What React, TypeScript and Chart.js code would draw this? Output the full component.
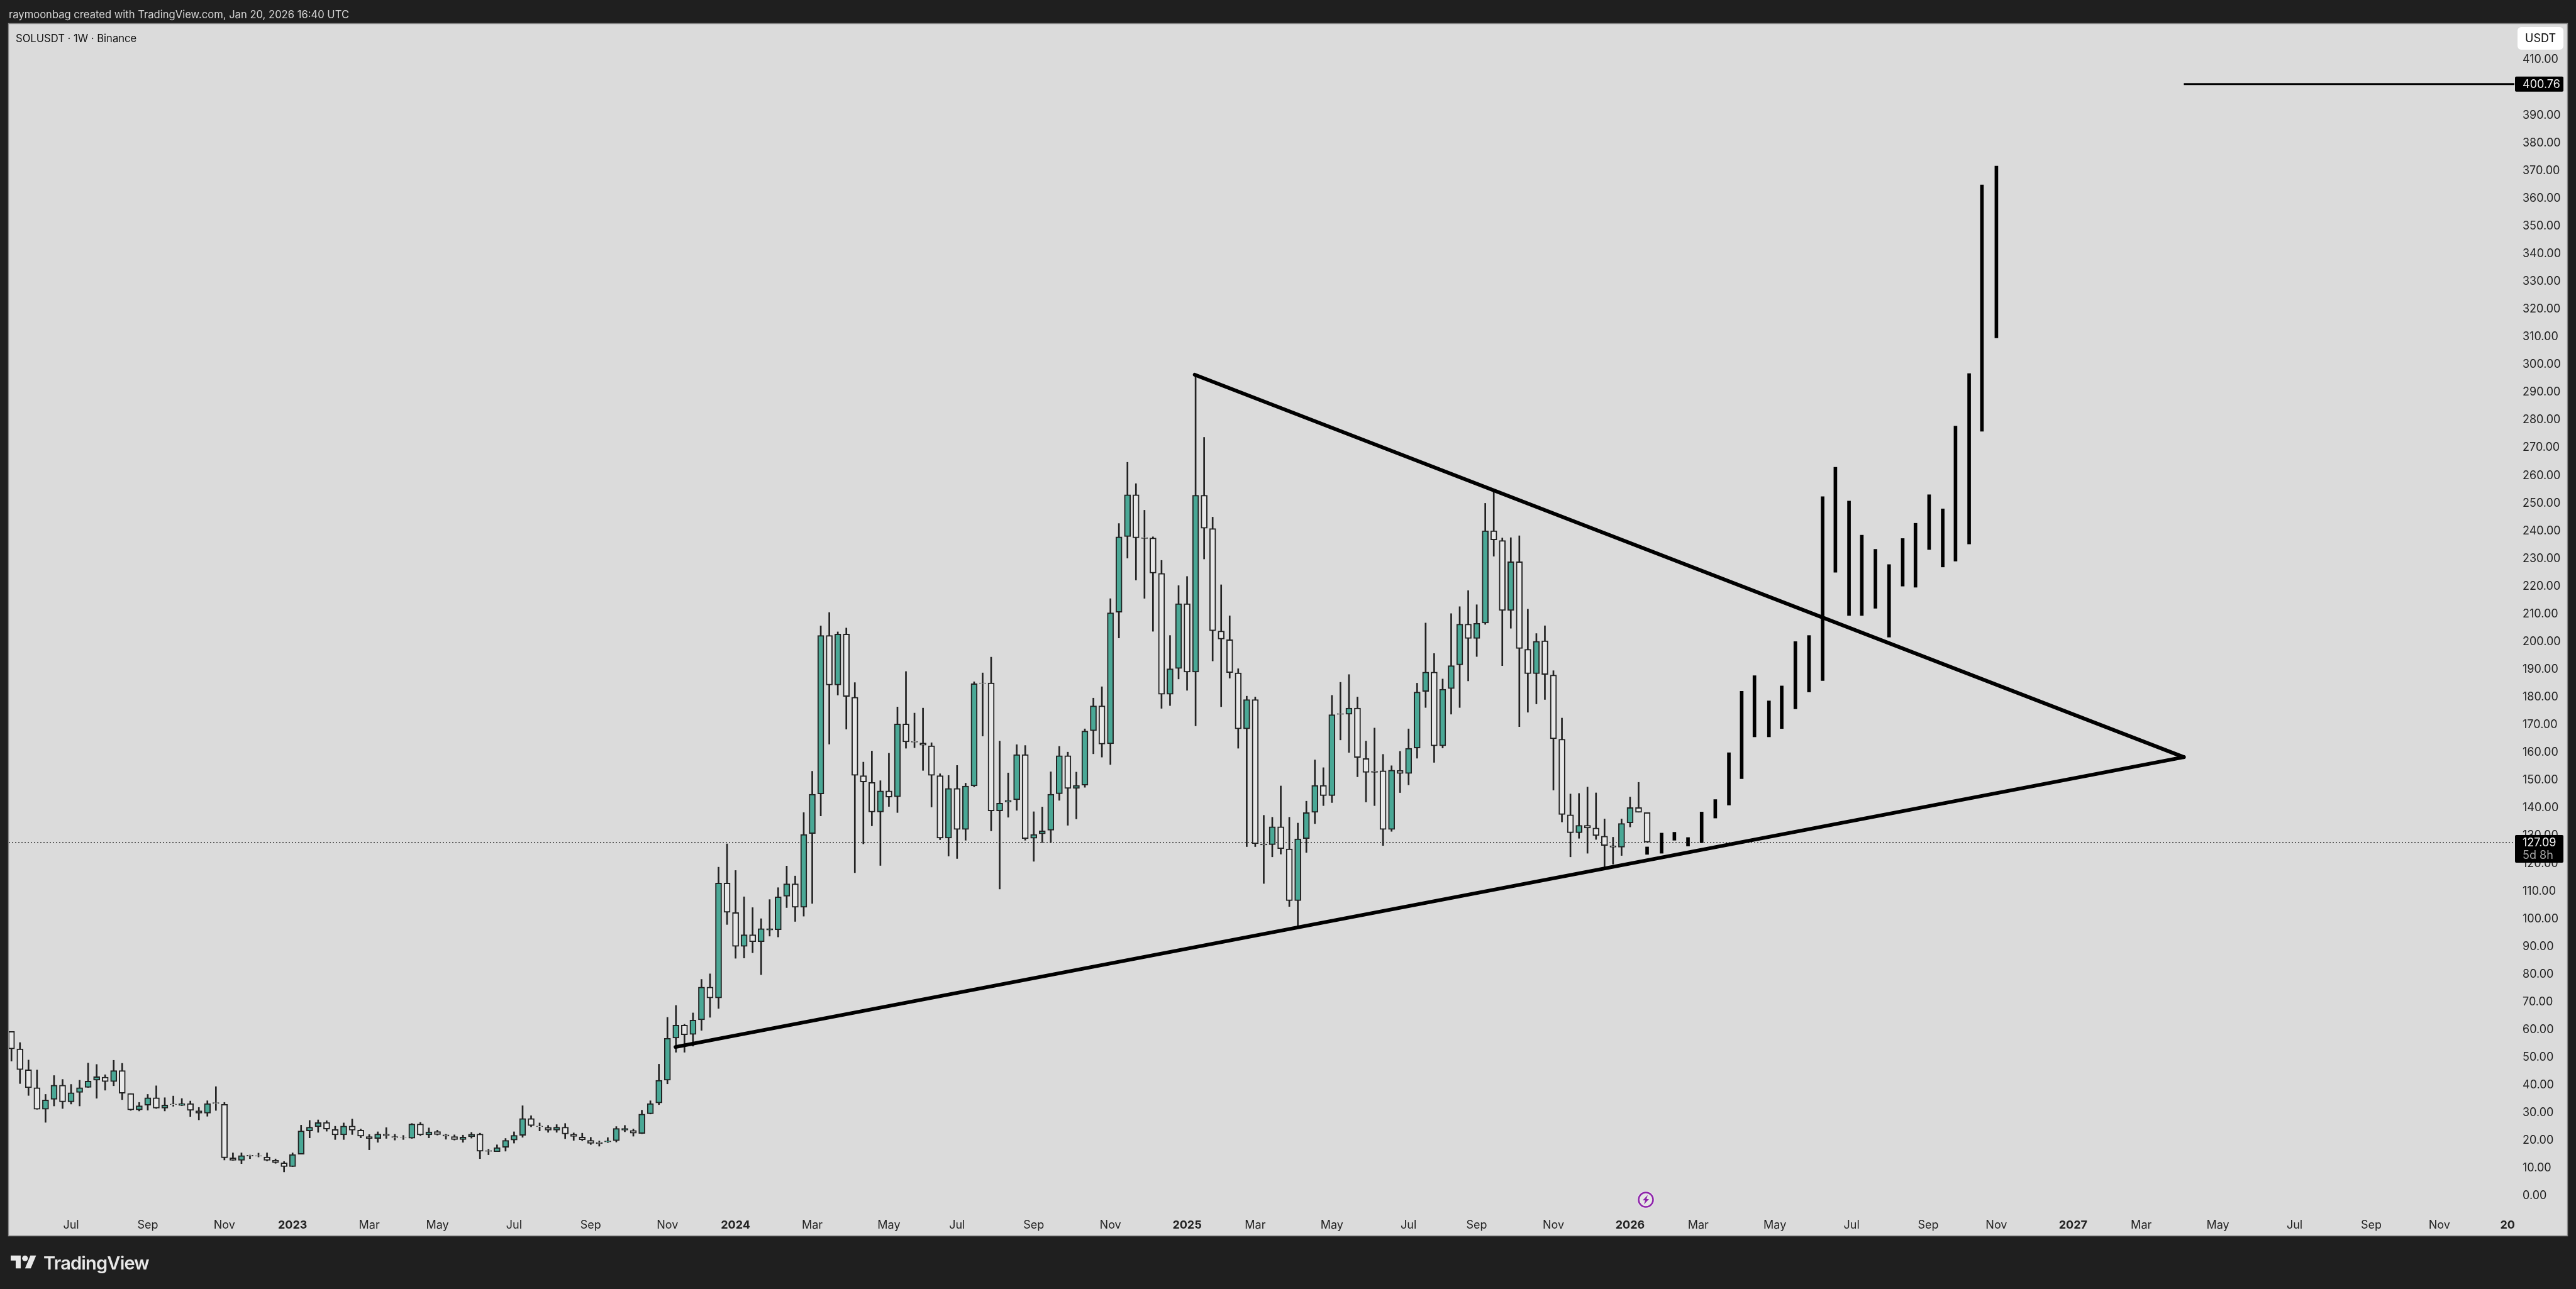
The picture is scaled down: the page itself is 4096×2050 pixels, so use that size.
import { useEffect, useRef } from "react";
import { Chart, registerables } from "chart.js";

Chart.register(...registerables);

// weekly candles, week 0 = May 16 2022
const opens = [
  58.9, 52.6, 45.1, 38.6, 30.8, 34.4, 39.5, 33.5, 36.9, 38.7,
  41.3, 42.4, 40.8, 44.8, 36.5, 30.6, 32.3, 35.0, 31.2, 32.7,
  32.2, 32.9, 30.3, 29.4, 33.2, 32.6, 13.3, 12.4, 14.2, 14.1,
  13.6, 12.4, 11.5, 10.1, 14.6, 23.0, 24.5, 26.1, 23.5, 21.6,
  24.8, 23.3, 21.0, 20.3, 21.8, 21.0, 20.7, 20.4, 25.5, 21.6,
  22.8, 21.6, 21.0, 19.9, 20.9, 21.9, 15.9, 15.5, 17.1, 19.7,
  21.4, 27.5, 24.8, 24.3, 23.3, 24.4, 21.8, 20.8, 19.6, 18.9,
  19.0, 19.5, 23.3, 23.2, 22.1, 29.2, 33.1, 41.3, 56.5, 61.2,
  57.8, 63.1, 74.9, 71.0, 112.5, 101.8, 89.6, 93.8, 91.3, 95.5,
  95.6, 107.7, 112.2, 103.7, 130.3, 144.6, 201.8, 183.9, 202.3, 179.5,
  151.2, 148.8, 138.1, 145.7, 143.6, 169.9, 163.5, 163.0, 162.0, 151.2,
  128.7, 146.6, 131.8, 147.5, 184.7, 184.7, 138.5, 141.7, 142.5, 158.8,
  128.6, 130.2, 131.5, 144.7, 158.4, 146.6, 147.8, 167.4, 176.4, 162.7,
  210.2, 237.5, 252.6, 237.1, 237.0, 224.2, 180.6, 189.9, 213.3, 188.6,
  252.4, 240.4, 203.4, 200.3, 188.3, 168.1, 178.7, 126.6, 126.3, 132.8,
  124.8, 106.1, 128.5, 138.0, 147.7, 144.0, 173.6, 173.4, 175.6, 157.4,
  152.8, 153.0, 131.8, 153.1, 152.0, 161.2, 181.6, 188.6, 162.0, 182.6,
  191.2, 205.9, 200.7, 206.3, 239.6, 236.1, 210.8, 228.4, 196.8, 188.0,
  199.9, 187.5, 164.4, 137.1, 130.6, 133.3, 132.3, 129.4, 125.9, 125.4,
  134.2, 139.7, 137.9,
];
const closes = [
  52.6, 45.1, 38.6, 30.8, 34.2, 39.5, 33.5, 36.8, 38.6, 41.0,
  42.6, 40.8, 44.8, 36.6, 30.6, 32.1, 35.0, 31.2, 32.4, 32.5,
  32.9, 30.4, 29.4, 32.9, 33.0, 13.3, 12.4, 14.1, 14.0, 14.0,
  12.4, 11.6, 10.1, 14.5, 23.0, 24.4, 26.0, 23.7, 21.6, 24.8,
  23.3, 21.1, 20.3, 21.9, 21.3, 20.6, 20.6, 25.5, 21.6, 22.7,
  21.7, 21.1, 19.9, 20.8, 21.8, 15.7, 15.6, 17.0, 19.6, 21.4,
  27.5, 24.9, 24.5, 23.3, 24.4, 21.9, 21.0, 19.8, 18.5, 18.4,
  19.4, 23.9, 23.9, 22.2, 29.1, 32.9, 41.3, 56.4, 61.2, 57.7,
  63.0, 74.9, 71.0, 112.5, 101.9, 89.6, 93.8, 91.3, 96.0, 96.0,
  107.5, 112.2, 103.7, 130.0, 144.5, 201.8, 183.9, 202.3, 179.8, 151.3,
  148.9, 138.1, 145.7, 143.5, 169.9, 163.4, 163.3, 162.2, 151.3, 128.7,
  146.6, 131.8, 147.5, 184.4, 184.5, 138.5, 141.3, 142.3, 158.8, 128.5,
  130.0, 131.3, 144.5, 158.4, 146.6, 147.7, 167.3, 176.4, 162.6, 210.0,
  237.4, 252.6, 237.0, 236.8, 224.3, 180.6, 189.8, 213.3, 188.6, 252.4,
  240.5, 203.5, 200.5, 188.4, 168.1, 178.7, 126.7, 126.2, 132.8, 124.9,
  106.1, 128.4, 137.9, 147.7, 144.0, 173.2, 173.3, 175.6, 157.8, 152.4,
  152.4, 131.8, 153.2, 152.0, 161.1, 181.4, 188.6, 162.0, 182.4, 190.9,
  205.9, 200.7, 206.2, 239.6, 236.3, 210.8, 228.4, 197.1, 188.0, 199.7,
  187.7, 164.5, 137.2, 130.6, 133.3, 132.3, 129.6, 126.0, 125.4, 134.0,
  139.7, 138.0, 127.2,
];
const highs = [
  58.9, 54.9, 48.6, 45.0, 36.2, 43.0, 41.6, 39.8, 41.3, 47.5,
  47.0, 43.3, 48.5, 47.4, 36.5, 33.3, 36.2, 39.3, 35.0, 35.6,
  34.7, 33.8, 31.5, 33.9, 39.0, 33.3, 15.1, 15.1, 14.3, 15.0,
  15.1, 12.9, 12.0, 15.1, 25.1, 26.8, 27.0, 26.7, 24.7, 25.9,
  27.3, 23.7, 21.7, 22.7, 24.2, 21.8, 21.4, 25.7, 26.1, 24.1,
  23.3, 21.8, 21.6, 21.5, 22.5, 22.2, 16.4, 18.0, 20.3, 22.7,
  32.1, 28.5, 25.9, 25.0, 25.3, 25.7, 22.3, 22.2, 20.7, 19.4,
  20.6, 24.6, 25.0, 23.7, 30.5, 33.9, 47.1, 64.0, 68.3, 61.5,
  65.6, 77.7, 79.7, 118.2, 126.6, 117.0, 107.5, 103.6, 99.6, 106.5,
  110.8, 118.6, 115.0, 137.9, 152.8, 205.3, 210.1, 203.1, 204.5, 184.8,
  156.1, 160.1, 149.4, 159.3, 176.0, 188.8, 173.8, 175.6, 163.1, 151.9,
  151.3, 154.9, 148.5, 185.1, 188.3, 194.0, 163.7, 152.2, 162.4, 162.1,
  138.2, 139.9, 152.6, 161.8, 159.7, 152.5, 168.1, 179.2, 183.3, 215.1,
  242.2, 264.3, 256.6, 247.0, 237.4, 228.9, 201.8, 219.8, 223.1, 295.8,
  273.3, 244.5, 220.1, 208.9, 189.8, 179.9, 179.6, 136.9, 136.2, 147.5,
  136.2, 134.1, 142.0, 156.9, 154.1, 180.2, 184.9, 187.7, 179.6, 163.7,
  168.4, 158.9, 154.8, 160.0, 168.1, 184.6, 206.3, 195.3, 186.1, 209.7,
  212.2, 218.0, 212.9, 249.5, 253.9, 237.0, 237.1, 237.8, 211.3, 202.5,
  205.3, 189.1, 172.0, 144.6, 144.8, 147.1, 145.0, 135.6, 129.0, 135.6,
  143.5, 148.8, 137.9,
];
const lows = [
  48.2, 40.1, 35.8, 30.8, 26.1, 32.0, 31.1, 32.7, 32.0, 38.7,
  34.8, 37.7, 39.3, 34.3, 30.4, 30.2, 30.5, 31.1, 30.2, 31.9,
  32.1, 28.2, 27.0, 28.3, 30.4, 12.5, 12.4, 11.2, 13.0, 13.6,
  12.2, 11.3, 8.2, 10.1, 14.6, 20.5, 22.5, 22.9, 19.9, 19.9,
  21.7, 20.5, 16.2, 18.9, 20.3, 19.7, 19.9, 20.3, 21.3, 20.5,
  21.5, 20.0, 19.7, 18.9, 20.4, 13.0, 14.4, 15.5, 15.7, 18.6,
  20.7, 24.5, 23.0, 22.5, 22.5, 20.2, 19.6, 19.5, 18.1, 17.5,
  18.8, 19.0, 22.7, 21.1, 22.0, 29.1, 32.5, 40.0, 51.4, 51.4,
  53.6, 59.3, 64.0, 67.2, 97.5, 85.3, 85.4, 87.3, 79.4, 93.3,
  93.0, 103.6, 98.6, 100.5, 105.1, 136.7, 162.6, 180.3, 168.0, 116.2,
  126.6, 133.1, 118.8, 140.1, 137.9, 161.1, 161.3, 153.1, 139.9, 128.1,
  122.2, 121.3, 127.9, 147.2, 165.5, 131.3, 110.3, 136.2, 138.7, 127.9,
  120.3, 127.1, 127.1, 142.3, 133.3, 135.6, 147.0, 159.1, 157.9, 155.2,
  200.9, 229.7, 221.8, 215.2, 203.3, 175.5, 176.5, 186.1, 182.0, 169.2,
  229.4, 192.6, 176.1, 186.4, 161.1, 125.6, 125.6, 112.3, 121.9, 122.9,
  104.0, 96.5, 123.5, 133.9, 140.4, 141.5, 164.1, 159.6, 150.8, 141.7,
  140.4, 126.0, 131.1, 145.1, 147.9, 157.5, 175.8, 156.0, 161.2, 173.4,
  175.8, 185.4, 194.2, 205.8, 230.4, 190.9, 204.4, 168.9, 174.1, 177.1,
  178.7, 146.0, 134.5, 121.9, 128.6, 123.2, 128.2, 117.6, 119.3, 122.4,
  132.7, 138.0, 127.2,
];

// hand drawn projection bars
const projWeeks = [
  192.0, 193.7, 195.2, 196.8, 198.4, 200.0, 201.6, 203.1, 204.6, 206.3, 207.8, 209.4, 211.0, 212.6,
  214.1, 215.7, 217.2, 218.8, 220.4, 222.0, 223.5, 225.1, 226.7, 228.2, 229.8, 231.3, 233.0,
];
const projHighs = [
  125.5, 130.5, 130.8, 128.9, 138.1, 142.6, 159.5, 181.7, 187.3, 178.2, 183.6, 199.6, 201.8, 251.9,
  262.5, 250.3, 238.0, 232.9, 227.4, 236.8, 242.3, 252.6, 247.5, 277.4, 296.3, 364.4, 371.2,
];
const projLows = [
  122.8, 123.2, 127.9, 125.8, 127.0, 135.9, 140.6, 150.1, 165.2, 165.2, 168.2, 175.3, 181.4, 185.5,
  224.6, 209.0, 209.0, 211.6, 201.2, 219.6, 219.2, 232.8, 226.5, 228.6, 234.8, 275.5, 309.2,
];

// [week, price]
const upperTrend = [[138.9, 295.9], [255.0, 157.9]];
const lowerTrend = [[77.95, 53.3], [255.0, 157.9]];
const lastPrice = 127.09;
const targetPrice = 400.76;
const targetStart = 255.0;

const timeWeeks = [
  7, 16, 25, 33, 42, 50, 59, 68, 77, 85, 94, 103, 111, 120, 129, 138, 146, 155, 164, 172, 181, 190,
  198, 207, 216, 225, 233, 242, 250, 259, 268, 277, 285, 293,
];
const timeLabels = [
  "Jul", "Sep", "Nov", "2023", "Mar", "May", "Jul", "Sep", "Nov", "2024", "Mar", "May", "Jul", "Sep", "Nov", "2025",
  "Mar", "May", "Jul", "Sep", "Nov", "2026", "Mar", "May", "Jul", "Sep", "Nov", "2027", "Mar", "May", "Jul", "Sep",
  "Nov", "20",
];
const priceTicks = [
  0, 10, 20, 30, 40, 50, 60, 70, 80, 90, 100, 110, 120, 130, 140, 150, 160, 170, 180, 190, 200, 210, 220, 230, 240,
  250, 260, 270, 280, 290, 300, 310, 320, 330, 340, 350, 360, 370, 380, 390, 400, 410,
];

const FONT = "Inter, 'Liberation Sans', sans-serif";
const UP = "#4aa896";
const DOWN = "#e8e8e8";
const EDGE = "#222222";
const WEEK_MIN = -0.31;
const WEEK_MAX = 293.8;

const isBoldLabel = (s: string) => /^20/.test(s);

const tvChrome = {
  id: "tvChrome",
  beforeDraw(chart: any) {
    const { ctx } = chart;
    ctx.save();
    ctx.fillStyle = "#1f1f1f";
    ctx.fillRect(0, 0, 4096, 2050);
    ctx.fillStyle = "#dbdbdb";
    ctx.fillRect(14, 38, 4068, 1927);
    ctx.strokeStyle = "#8a8a8a";
    ctx.lineWidth = 1.5;
    ctx.strokeRect(13.5, 37.5, 4069, 1928);
    ctx.restore();
  },
  afterDraw(chart: any) {
    const { ctx, scales } = chart;
    const tagX = 3999;
    const tagW = 77;
    ctx.save();
    ctx.textBaseline = "middle";
    ctx.textAlign = "left";
    ctx.font = `18px ${FONT}`;

    const yt = scales.y.getPixelForValue(targetPrice);
    ctx.fillStyle = "#000000";
    ctx.beginPath();
    ctx.roundRect(tagX, yt - 12, tagW, 24, 2);
    ctx.fill();
    ctx.fillStyle = "#f2f2f2";
    ctx.fillText(targetPrice.toFixed(2), 4011, yt + 1);

    const yl = scales.y.getPixelForValue(lastPrice);
    ctx.fillStyle = "#000000";
    ctx.beginPath();
    ctx.roundRect(tagX, yl - 12, tagW, 44, 2);
    ctx.fill();
    ctx.fillStyle = "#f2f2f2";
    ctx.fillText(lastPrice.toFixed(2), 4011, yl + 1);
    ctx.fillStyle = "#a8a8a8";
    ctx.fillText("5d 8h", 4011, yl + 21);
    ctx.restore();
  },
};

export default function App() {
  const ref = useRef<HTMLCanvasElement | null>(null);

  useEffect(() => {
    if (!ref.current) return;
    const weeks = opens.map((_, i) => i);
    const chart = new Chart(ref.current, {
      type: "bar",
      data: {
        datasets: [
          {
            type: "line",
            label: "Last price",
            data: [
              { x: WEEK_MIN, y: lastPrice },
              { x: WEEK_MAX, y: lastPrice },
            ],
            borderColor: "#333333",
            borderWidth: 1.5,
            borderDash: [2, 3],
            pointRadius: 0,
            order: 5,
          },
          {
            label: "Wicks",
            data: weeks.map((i) => ({ x: i, y: [lows[i], highs[i]] })),
            backgroundColor: EDGE,
            barThickness: 2,
            grouped: false,
            order: 4,
          },
          {
            label: "SOLUSDT",
            data: weeks.map((i) => ({ x: i, y: [opens[i], closes[i]] })),
            backgroundColor: weeks.map((i) => (closes[i] >= opens[i] ? UP : DOWN)),
            borderColor: EDGE,
            borderWidth: 2,
            borderSkipped: false,
            barThickness: 10,
            grouped: false,
            order: 3,
          },
          {
            label: "Projection",
            data: projWeeks.map((w, i) => ({ x: w, y: [projLows[i], projHighs[i]] })),
            backgroundColor: "#000000",
            barThickness: 5,
            grouped: false,
            order: 2,
          },
          {
            type: "line",
            label: "Upper trend",
            data: upperTrend.map(([x, y]) => ({ x, y })),
            borderColor: "#000000",
            borderWidth: 6,
            borderCapStyle: "round",
            pointRadius: 0,
            order: 1,
          },
          {
            type: "line",
            label: "Lower trend",
            data: lowerTrend.map(([x, y]) => ({ x, y })),
            borderColor: "#000000",
            borderWidth: 6,
            borderCapStyle: "round",
            pointRadius: 0,
            order: 1,
          },
          {
            type: "line",
            label: "Target",
            data: [
              { x: targetStart, y: targetPrice },
              { x: WEEK_MAX, y: targetPrice },
            ],
            borderColor: "#000000",
            borderWidth: 3,
            pointRadius: 0,
            order: 1,
          },
        ] as any,
      },
      options: {
        responsive: false,
        animation: false,
        devicePixelRatio: 1,
        layout: { padding: { left: 14, top: 38, right: 14, bottom: 85 } },
        plugins: { legend: { display: false }, tooltip: { enabled: false }, title: { display: false } },
        scales: {
          x: {
            type: "linear",
            offset: false,
            min: WEEK_MIN,
            max: WEEK_MAX,
            grid: { display: false, offset: false, drawTicks: false },
            border: { display: false },
            afterBuildTicks: (scale: any) => {
              scale.ticks = timeWeeks.map((value) => ({ value }));
            },
            afterFit: (scale: any) => {
              scale.height = 40;
            },
            ticks: {
              autoSkip: false,
              maxRotation: 0,
              padding: 13,
              color: "#222222",
              font: (ctx: any) => ({
                family: FONT,
                size: 18,
                weight: isBoldLabel(timeLabels[ctx.index] ?? "") ? "bold" : "normal",
              }),
              callback: (_v: any, i: number) => timeLabels[i],
            },
          },
          y: {
            position: "right",
            min: -5.67,
            max: 422.5,
            grid: { display: false, drawTicks: false },
            border: { display: false },
            afterBuildTicks: (scale: any) => {
              scale.ticks = priceTicks.map((value) => ({ value }));
            },
            afterFit: (scale: any) => {
              scale.width = 84;
            },
            ticks: {
              autoSkip: false,
              padding: 13,
              labelOffset: 2,
              color: "#222222",
              font: { family: FONT, size: 18 },
              callback: (v: any) => Number(v).toFixed(2),
            },
          },
        },
      } as any,
      plugins: [tvChrome],
    });
    return () => chart.destroy();
  }, []);

  const label = (style: any, text: string) => (
    <div style={{ position: "absolute", whiteSpace: "nowrap", fontFamily: FONT, lineHeight: 1, ...style }}>{text}</div>
  );

  return (
    <div style={{ position: "fixed", left: 0, top: 0, width: 4096, height: 2050, overflow: "hidden" }}>
      <canvas ref={ref} width={4096} height={2050} style={{ display: "block", width: 4096, height: 2050 }} />
      {label({ left: 14, top: 14.5, fontSize: 16.6, color: "#d6d6d6" }, "raymoonbag created with TradingView.com, Jan 20, 2026 16:40 UTC")}
      {label({ left: 25, top: 52.5, fontSize: 16.6, color: "#111111" }, "SOLUSDT · 1W · Binance")}
      <div style={{ position: "absolute", left: 4003, top: 43, width: 73, height: 36, background: "#ffffff", borderRadius: 6 }} />
      {label({ left: 4003, width: 73, textAlign: "center", top: 52, fontSize: 18, color: "#111111" }, "USDT")}
      <svg style={{ position: "absolute", left: 17, top: 1996 }} width="41" height="22" viewBox="0 4 36 18">
        <path d="M14 22H7V11H0V4h14v18zM28 22h-8l7.5-18h8L28 22z" fill="#e8e8e8" />
        <circle cx="20" cy="8" r="4" fill="#e8e8e8" />
      </svg>
      {label({ left: 69, top: 1994, fontSize: 29, fontWeight: 600, letterSpacing: -0.8, color: "#e8e8e8" }, "TradingView")}
      <svg style={{ position: "absolute", left: 2603, top: 1894 }} width="28" height="28" viewBox="0 0 28 28">
        <circle cx="14" cy="14" r="14" fill="#e8e0ec" />
        <circle cx="14" cy="14" r="11.5" fill="#e6e6e6" stroke="#8e24aa" strokeWidth="2.5" />
        <path d="M17 6.5 L9 15 H13 L11 21.5 L19 13 H15 Z" fill="#8e24aa" />
      </svg>
    </div>
  );
}
